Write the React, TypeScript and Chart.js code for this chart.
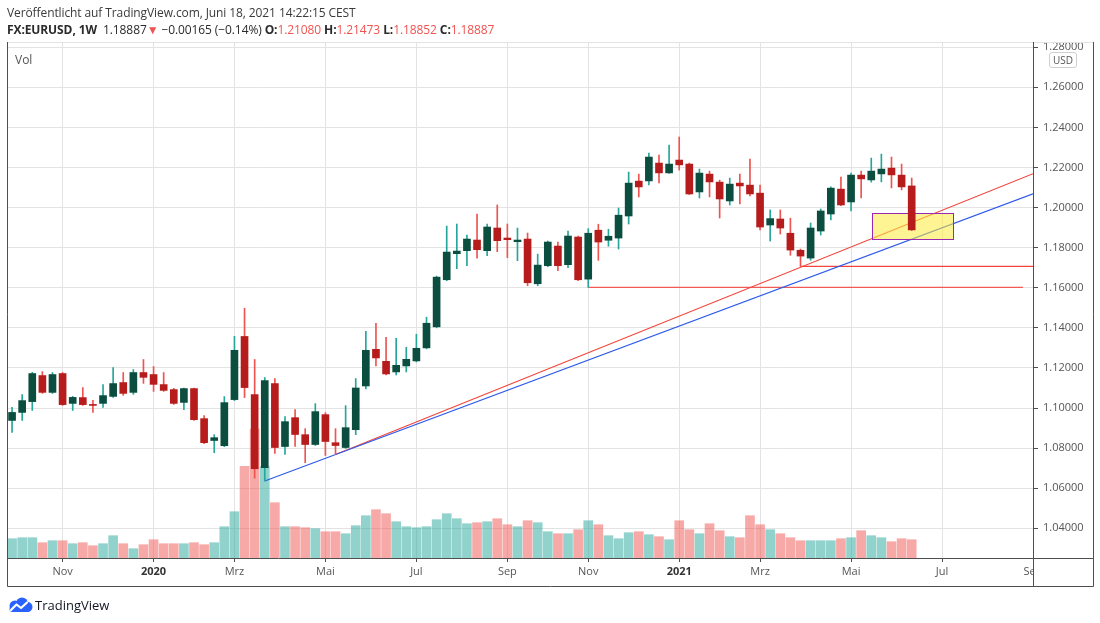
import React, { useEffect, useRef } from 'react';
import { Chart, registerables } from 'chart.js';

Chart.register(...registerables);

// Weekly FX:EURUSD bars, first bar = week of Sep 30, 2019, last = week of Jun 14, 2021
const opens = [
  1.0938, 1.0978, 1.1032, 1.1162, 1.1078, 1.1172, 1.1023, 1.1052, 1.1018, 1.1023,
  1.1058, 1.1127, 1.1078, 1.1177, 1.1167, 1.1117, 1.1092, 1.1028, 1.1097, 1.0947,
  1.0838, 1.0812, 1.1042, 1.1357, 1.1067, 1.0703, 1.1122, 1.0808, 1.0952, 1.0867,
  1.0818, 1.0967, 1.0827, 1.0803, 1.0892, 1.1110, 1.1293, 1.1233, 1.1180, 1.1210,
  1.1235, 1.1300, 1.1405, 1.1640, 1.1770, 1.1785, 1.1838, 1.1785, 1.1898, 1.1848,
  1.1830, 1.1843, 1.1620, 1.1710, 1.1808, 1.1715, 1.1853, 1.1643, 1.1887, 1.1837,
  1.1848, 1.1958, 1.2132, 1.2133, 1.2222, 1.2173, 1.2237, 1.2217, 1.2078, 1.2167,
  1.2127, 1.2033, 1.2122, 1.2112, 1.2072, 1.1913, 1.1943, 1.1872, 1.1787, 1.1748,
  1.1883, 1.1968, 1.2092, 1.2028, 1.2162, 1.2138, 1.2168, 1.2197, 1.2162, 1.2108,
];
const highs = [
  1.1003, 1.1067, 1.1178, 1.1182, 1.1177, 1.1177, 1.1058, 1.1102, 1.1038, 1.1117,
  1.1202, 1.1177, 1.1192, 1.1242, 1.1207, 1.1177, 1.1098, 1.1099, 1.1099, 1.0962,
  1.0867, 1.1057, 1.1358, 1.1498, 1.1242, 1.1152, 1.1147, 1.0957, 1.0992, 1.0897,
  1.1022, 1.0977, 1.0897, 1.1012, 1.1147, 1.1383, 1.1423, 1.1353, 1.1348, 1.1303,
  1.1368, 1.1453, 1.1658, 1.1908, 1.1918, 1.1863, 1.1968, 1.1918, 1.2013, 1.1918,
  1.1898, 1.1873, 1.1768, 1.1833, 1.1828, 1.1883, 1.1858, 1.1895, 1.1917, 1.1892,
  1.1998, 1.2177, 1.2167, 1.2272, 1.2262, 1.2312, 1.2352, 1.2222, 1.2192, 1.2182,
  1.2137, 1.2147, 1.2167, 1.2242, 1.2112, 1.1988, 1.1988, 1.1947, 1.1793, 1.1923,
  1.1993, 1.2103, 1.2152, 1.2172, 1.2182, 1.2247, 1.2267, 1.2252, 1.2217, 1.21473,
];
const lows = [
  1.0878, 1.0938, 1.0988, 1.1073, 1.1073, 1.1013, 1.0988, 1.1013, 1.0978, 1.1003,
  1.1053, 1.1063, 1.1068, 1.1123, 1.1083, 1.1083, 1.1018, 1.0992, 1.0938, 1.0822,
  1.0777, 1.0807, 1.1037, 1.1052, 1.0650, 1.0636, 1.0773, 1.0768, 1.0808, 1.0727,
  1.0813, 1.0763, 1.0768, 1.0798, 1.0867, 1.1095, 1.1210, 1.1165, 1.1165, 1.1180,
  1.1230, 1.1295, 1.1400, 1.1635, 1.1695, 1.1710, 1.1748, 1.1760, 1.1780, 1.1750,
  1.1735, 1.1610, 1.1610, 1.1705, 1.1685, 1.1700, 1.1635, 1.1602, 1.1737, 1.1807,
  1.1793, 1.1918, 1.2053, 1.2113, 1.2123, 1.2170, 1.2187, 1.2065, 1.2048, 1.2053,
  1.1948, 1.2013, 1.2018, 1.2058, 1.1888, 1.1833, 1.1868, 1.1762, 1.1707, 1.1737,
  1.1863, 1.1938, 1.2010, 1.1983, 1.2048, 1.2127, 1.2128, 1.2098, 1.2088, 1.18852,
];
const closes = [
  1.0978, 1.1037, 1.1172, 1.1078, 1.1167, 1.1017, 1.1053, 1.1017, 1.1013, 1.1062,
  1.1122, 1.1073, 1.1177, 1.1153, 1.1118, 1.1088, 1.1023, 1.1097, 1.0942, 1.0827,
  1.0852, 1.1027, 1.1288, 1.1102, 1.0697, 1.1137, 1.0803, 1.0932, 1.0868, 1.0818,
  1.0982, 1.0833, 1.0813, 1.0902, 1.1100, 1.1288, 1.1250, 1.1170, 1.1213, 1.1243,
  1.1298, 1.1423, 1.1653, 1.1778, 1.1783, 1.1843, 1.1790, 1.1903, 1.1835, 1.1840,
  1.1838, 1.1625, 1.1713, 1.1828, 1.1710, 1.1858, 1.1640, 1.1872, 1.1828, 1.1857,
  1.1962, 1.2122, 1.2103, 1.2252, 1.2173, 1.2217, 1.2213, 1.2068, 1.2172, 1.2128,
  1.2043, 1.2117, 1.2108, 1.2068, 1.1903, 1.1945, 1.1898, 1.1788, 1.1758, 1.1898,
  1.1983, 1.2097, 1.2013, 1.2162, 1.2143, 1.2182, 1.2192, 1.2163, 1.2103, 1.18887,
];
const volumes = [
  193, 203, 203, 153, 173, 173, 143, 153, 123, 143,
  223, 143, 93, 133, 183, 143, 143, 143, 153, 133,
  153, 313, 463, 916, 1290, 913, 553, 313, 313, 303,
  293, 263, 263, 243, 323, 423, 483, 443, 363, 313,
  303, 313, 383, 443, 393, 343, 353, 363, 393, 333,
  313, 373, 353, 263, 243, 243, 283, 373, 333, 223,
  193, 253, 263, 233, 213, 183, 373, 283, 243, 343,
  273, 213, 203, 423, 333, 283, 243, 203, 173, 173,
  173, 173, 193, 203, 273, 223, 203, 163, 193, 183,
];

// time axis: week index of the first bar of each labelled month
const monthTickIndex = [5, 14, 22, 31, 40, 49, 57, 66, 74, 83, 92, 101];
const monthTickLabels = ['Nov', '2020', 'Mrz', 'Mai', 'Jul', 'Sep', 'Nov', '2021', 'Mrz', 'Mai', 'Jul', 'Sep'];
const yearTickLabels = ['2020', '2021'];

// drawings (week index, price)
const blueTrend = [{ x: 25, y: 1.0636 }, { x: 101, y: 1.2069 }];
const redTrend = [{ x: 32, y: 1.0768 }, { x: 101, y: 1.2169 }];
const support116 = [{ x: 57, y: 1.1602 }, { x: 100, y: 1.1602 }];
const support117 = [{ x: 78, y: 1.1707 }, { x: 101, y: 1.1707 }];
const zoneWeeks = [85.1, 93.1];
const zonePrices = [1.1842, 1.1971];

const UP_BODY = '#0b4d3e';
const DOWN_BODY = '#b71c1c';
const UP_WICK = '#26a69a';
const DOWN_WICK = '#ef5350';
const UP_VOL = 'rgba(38,166,154,0.5)';
const DOWN_VOL = 'rgba(239,83,80,0.5)';
const AXIS_FONT = '"Open Sans", "Noto Sans", sans-serif';

const framePlugin = {
  id: 'tvFrame',
  beforeDatasetDraw(chart: any, args: any) {
    if (args.meta && args.meta.label === 'wicks') {
      const { ctx } = chart;
      const xs = chart.scales.x;
      const ys = chart.scales.y;
      const x0 = xs.getPixelForValue(zoneWeeks[0]);
      const x1 = xs.getPixelForValue(zoneWeeks[1]);
      const y0 = ys.getPixelForValue(zonePrices[1]);
      const y1 = ys.getPixelForValue(zonePrices[0]);
      ctx.save();
      ctx.fillStyle = 'rgba(255,235,59,0.55)';
      ctx.fillRect(x0, y0, x1 - x0, y1 - y0);
      ctx.strokeStyle = '#9c27b0';
      ctx.lineWidth = 1;
      ctx.strokeRect(Math.round(x0) + 0.5, Math.round(y0) + 0.5, Math.round(x1 - x0), Math.round(y1 - y0));
      ctx.restore();
    }
  },
  afterDraw(chart: any) {
    const { ctx, chartArea: a } = chart;
    const right = a.right + 60;
    const bottom = a.bottom + 28;
    ctx.save();
    ctx.fillStyle = '#ffffff';
    ctx.fillRect(a.right + 1, a.bottom + 1, 80, 40);
    ctx.fillRect(a.right + 1, 0, 80, a.top);
    ctx.lineWidth = 1;
    ctx.strokeStyle = '#e3e3e3';
    ctx.beginPath();
    ctx.moveTo(a.left, a.top + 0.5);
    ctx.lineTo(right, a.top + 0.5);
    ctx.stroke();
    ctx.strokeStyle = '#4f4f4f';
    ctx.beginPath();
    ctx.moveTo(a.left + 0.5, a.top);
    ctx.lineTo(a.left + 0.5, bottom + 0.5);
    ctx.lineTo(right + 0.5, bottom + 0.5);
    ctx.lineTo(right + 0.5, a.top);
    ctx.moveTo(a.right + 0.5, a.top);
    ctx.lineTo(a.right + 0.5, bottom);
    ctx.moveTo(a.left, a.bottom + 0.5);
    ctx.lineTo(right, a.bottom + 0.5);
    ctx.stroke();
    ctx.restore();
  },
};

function TvLogo() {
  return (
    <svg width="26" height="16" viewBox="0 0 26 16" style={{ display: 'block' }}>
      <circle cx="8" cy="9" r="5.5" fill="#2962ff" />
      <circle cx="15" cy="6.5" r="6" fill="#2962ff" />
      <circle cx="20.5" cy="10" r="5" fill="#2962ff" />
      <rect x="2.5" y="9" width="21" height="6" rx="3" fill="#2962ff" />
      <polyline points="4,13 9.5,7.5 14,11 20,5.5" fill="none" stroke="#fff" strokeWidth="2.2" strokeLinejoin="round" strokeLinecap="round" />
    </svg>
  );
}

export default function App() {
  const canvasRef = useRef<HTMLCanvasElement | null>(null);

  useEffect(() => {
    document.body.style.margin = '0';
    const canvas = canvasRef.current;
    if (!canvas) return;

    const isUp = opens.map((o, i) => closes[i] >= o);
    const bodies = opens.map((o, i) => ({ x: i, y: [o, closes[i]] }));
    const wicks = lows.map((l, i) => ({ x: i, y: [l, highs[i]] }));
    const vols = volumes.map((v, i) => ({ x: i, y: v }));

    const trend = (label: string, data: any[], color: string, width: number) => ({
      type: 'line' as const,
      label,
      data,
      yAxisID: 'y',
      borderColor: color,
      borderWidth: width,
      pointRadius: 0,
      tension: 0,
      order: 4,
    });

    const chart = new Chart(canvas, {
      type: 'bar',
      data: {
        datasets: [
          {
            type: 'bar',
            label: 'volume',
            data: vols as any,
            yAxisID: 'yVol',
            backgroundColor: isUp.map((u) => (u ? UP_VOL : DOWN_VOL)),
            barThickness: 9,
            grouped: false,
            order: 6,
          },
          trend('blueTrend', blueTrend, '#2f5bea', 1.2),
          trend('redTrend', redTrend, '#f4433a', 1.2),
          trend('support116', support116, 'rgba(244,67,58,0.85)', 1.3),
          trend('support117', support117, '#f4433a', 1.2),
          {
            type: 'bar',
            label: 'wicks',
            data: wicks as any,
            yAxisID: 'y',
            backgroundColor: isUp.map((u) => (u ? UP_WICK : DOWN_WICK)),
            barThickness: 1,
            grouped: false,
            order: 2,
          },
          {
            type: 'bar',
            label: 'bodies',
            data: bodies as any,
            yAxisID: 'y',
            backgroundColor: isUp.map((u) => (u ? UP_BODY : DOWN_BODY)),
            barThickness: 7,
            minBarLength: 1,
            grouped: false,
            order: 1,
          },
        ] as any,
      },
      options: {
        animation: false,
        responsive: true,
        maintainAspectRatio: false,
        events: [],
        layout: { padding: { left: 7, top: 42, right: 7, bottom: 37 } },
        plugins: { legend: { display: false }, tooltip: { enabled: false } },
        scales: {
          x: {
            type: 'linear',
            position: 'bottom',
            min: -0.5,
            max: 101,
            offset: false,
            afterBuildTicks: (scale: any) => {
              scale.ticks = monthTickIndex.map((v) => ({ value: v }));
            },
            afterFit: (scale: any) => {
              scale.height = 28;
            },
            grid: {
              offset: false,
              color: '#e3e3e3',
              tickColor: '#4f4f4f',
              tickLength: 4,
              drawTicks: true,
            },
            border: { display: false },
            ticks: {
              autoSkip: false,
              maxRotation: 0,
              padding: 3,
              color: (ctx: any) => {
                const lbl = monthTickLabels[monthTickIndex.indexOf(ctx.tick?.value)];
                return yearTickLabels.includes(lbl) ? '#333' : '#555';
              },
              font: (ctx: any) => {
                const lbl = monthTickLabels[monthTickIndex.indexOf(ctx.tick?.value)];
                return { family: AXIS_FONT, size: 11, weight: yearTickLabels.includes(lbl) ? 'bold' : 'normal' } as any;
              },
              callback: (value: any) => {
                const k = monthTickIndex.indexOf(Number(value));
                return k >= 0 ? monthTickLabels[k] : '';
              },
            },
          },
          y: {
            type: 'linear',
            position: 'right',
            min: 1.02518,
            max: 1.2826,
            afterFit: (scale: any) => {
              scale.width = 60;
            },
            grid: {
              color: '#e3e3e3',
              tickColor: '#4f4f4f',
              tickLength: 5,
            },
            border: { display: false },
            ticks: {
              stepSize: 0.02,
              includeBounds: false,
              padding: 5,
              color: '#555',
              font: { family: AXIS_FONT, size: 11 },
              callback: (v: any) => Number(v).toFixed(5),
            },
          },
          yVol: {
            type: 'linear',
            display: false,
            min: 0,
            max: 5160,
            grid: { display: false },
          },
        },
      },
      plugins: [framePlugin],
    });

    return () => chart.destroy();
  }, []);

  const red = { color: '#ef5350' };
  const textFont = '"Open Sans", "Noto Sans", sans-serif';

  return (
    <div style={{ position: 'relative', width: 1100, height: 623, background: '#fff', overflow: 'hidden', fontFamily: textFont }}>
      <div style={{ position: 'absolute', left: 0, top: 0, width: 1100, height: 623 }}>
        <canvas ref={canvasRef} />
      </div>
      <div style={{ position: 'absolute', left: 7, top: 5, fontSize: 12, lineHeight: '16px', color: '#3a3a3a', whiteSpace: 'nowrap', letterSpacing: '-0.1px' }}>
        Veröffentlicht auf TradingView.com, Juni 18, 2021 14:22:15 CEST
      </div>
      <div style={{ position: 'absolute', left: 7, top: 22, fontSize: 12, lineHeight: '16px', color: '#2a2a2a', whiteSpace: 'nowrap', letterSpacing: '-0.1px' }}>
        <b>FX:EURUSD, 1W</b>&nbsp; 1.18887<span style={red}>▼</span> −0.00165 (−0.14%) <b>O:</b><span style={red}>1.21080</span> <b>H:</b><span style={red}>1.21473</span> <b>L:</b><span style={red}>1.18852</span> <b>C:</b><span style={red}>1.18887</span>
      </div>
      <div style={{ position: 'absolute', left: 15, top: 52, fontSize: 12, lineHeight: '16px', color: '#555' }}>Vol</div>
      <div style={{ position: 'absolute', left: 1049, top: 52, width: 26, height: 14, border: '1px solid #cfcfcf', borderRadius: 3, background: '#fff', fontSize: 10, lineHeight: '14px', textAlign: 'center', color: '#555', fontFamily: AXIS_FONT }}>USD</div>
      <div style={{ position: 'absolute', left: 7, top: 596, display: 'flex', alignItems: 'center', gap: 2 }}>
        <TvLogo />
        <span style={{ fontSize: 13, color: '#131722', lineHeight: '18px' }}>TradingView</span>
      </div>
    </div>
  );
}
